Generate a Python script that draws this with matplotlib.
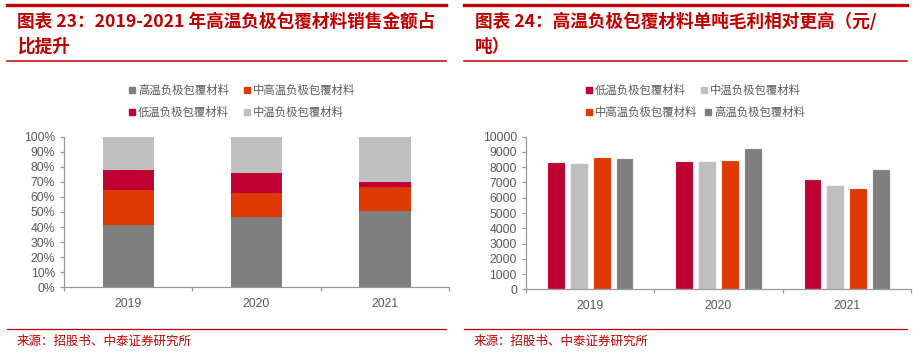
import matplotlib
matplotlib.use("Agg")
import matplotlib.pyplot as plt
from matplotlib.lines import Line2D
import numpy as np

plt.rcParams['font.family'] = ['Liberation Sans', 'Noto Sans CJK SC', 'DejaVu Sans']

years = ['2019', '2020', '2021']

# Chart 23: share of sales (%)
share_high = [41.5, 46.7, 50.7]
share_midhigh = [23.3, 15.9, 15.9]
share_low = [13.0, 13.3, 3.1]
share_mid = [22.2, 24.1, 30.3]

# Chart 24: gross profit per ton (yuan/ton)
gp_low = [8340, 8410, 7210]
gp_mid = [8300, 8390, 6830]
gp_midhigh = [8670, 8470, 6620]
gp_high = [8620, 9260, 7880]

lab_high = '高温负极包覆材料'
lab_midhigh = '中高温负极包覆材料'
lab_low = '低温负极包覆材料'
lab_mid = '中温负极包覆材料'

C_HIGH = '#7F7F7F'
C_MIDHIGH = '#DE3A00'
C_LOW = '#C00033'
C_MID = '#BFBFBF'
RED = '#C00000'
TXT = '#595959'
AX = '#999999'

W, H = 922, 352
fig = plt.figure(figsize=(W / 100, H / 100), dpi=100)

def fx(px):
    return px / W

def fy(py):
    return 1 - py / H

cjk = ['Noto Sans CJK SC', 'DejaVu Sans']

# Decorative lines and titles
for x0, x1 in [(7, 446), (464, 907)]:
    fig.add_artist(Line2D([fx(x0), fx(x1)], [fy(5), fy(5)], color=RED, lw=2.4))
    fig.add_artist(Line2D([fx(x0), fx(x1)], [fy(61), fy(61)], color=RED, lw=1.1))
    fig.add_artist(Line2D([fx(x0), fx(x1)], [fy(329), fy(329)], color=RED, lw=0.9))

tkw = dict(color=RED, fontsize=12.7, fontweight='bold', family=cjk, va='center', ha='left')
fig.text(fx(17), fy(22), '图表 23：2019-2021 年高温负极包覆材料销售金额占', **tkw)
fig.text(fx(17), fy(47), '比提升', **tkw)
fig.text(fx(475), fy(22), '图表 24：高温负极包覆材料单吨毛利相对更高（元/', **tkw)
fig.text(fx(475), fy(47), '吨）', **tkw)

skw = dict(color=RED, fontsize=9, family=cjk, va='center', ha='left')
fig.text(fx(17), fy(341), '来源：招股书、中泰证券研究所', **skw)
fig.text(fx(474), fy(341), '来源：招股书、中泰证券研究所', **skw)

def style_axes(ax):
    for s in ['top', 'right']:
        ax.spines[s].set_visible(False)
    for s in ['left', 'bottom']:
        ax.spines[s].set_color(AX)
        ax.spines[s].set_linewidth(0.9)
    ax.tick_params(axis='both', colors=AX, labelcolor=TXT, labelsize=8.7, length=3, width=0.9, direction='out')
    ax.set_xlim(-0.5, 2.5)
    ax.set_xticks([-0.5, 0.5, 1.5, 2.5])
    ax.set_xticklabels([])
    ax.set_xticks(np.arange(3), minor=True)
    ax.set_xticklabels(years, minor=True)
    ax.tick_params(axis='x', which='minor', length=0, pad=8, labelsize=8.7, labelcolor=TXT)

# Left: stacked percentage bars
ax1 = fig.add_axes([fx(64), fy(287.3), fx(385), (287.3 - 136.7) / H])
x = np.arange(len(years))
bw = 0.4
hi = np.array(share_high) / 100
mh = np.array(share_midhigh) / 100
lo = np.array(share_low) / 100
md = np.array(share_mid) / 100
ax1.bar(x, hi, bw, color=C_HIGH, label=lab_high)
ax1.bar(x, mh, bw, bottom=hi, color=C_MIDHIGH, label=lab_midhigh)
ax1.bar(x, lo, bw, bottom=hi + mh, color=C_LOW, label=lab_low)
ax1.bar(x, md, bw, bottom=hi + mh + lo, color=C_MID, label=lab_mid)
ax1.set_ylim(0, 1)
ax1.set_yticks(np.arange(0, 1.01, 0.1))
ax1.set_yticklabels([f'{int(round(v * 100))}%' for v in np.arange(0, 1.01, 0.1)])
style_axes(ax1)

# Right: grouped bars
ax2 = fig.add_axes([fx(526), fy(289.3), fx(385), (289.3 - 136.7) / H])
gw = 0.138
step = 0.179
series = [(gp_low, C_LOW, lab_low), (gp_mid, C_MID, lab_mid),
          (gp_midhigh, C_MIDHIGH, lab_midhigh), (gp_high, C_HIGH, lab_high)]
for i, (vals, c, lab) in enumerate(series):
    ax2.bar(x + (i - 1.5) * step, vals, gw, color=c, edgecolor='#F2F2F2', linewidth=0.8, label=lab)
ax2.set_ylim(0, 10000)
ax2.set_yticks(np.arange(0, 10001, 1000))
style_axes(ax2)

# Legends
def legend_at(handles_labels, positions):
    for (c, lab), (px, py) in zip(handles_labels, positions):
        fig.add_artist(Line2D([fx(px)], [fy(py)], marker='s', markersize=4.5,
                              color=c, linestyle='none'))
        fig.text(fx(px + 6), fy(py), lab, color=TXT, fontsize=8.2, family=cjk,
                 va='center', ha='left')

legend_at([(C_HIGH, lab_high), (C_MIDHIGH, lab_midhigh), (C_LOW, lab_low), (C_MID, lab_mid)],
          [(132, 90), (247, 90), (132, 112), (247, 112)])
legend_at([(C_LOW, lab_low), (C_MID, lab_mid), (C_MIDHIGH, lab_midhigh), (C_HIGH, lab_high)],
          [(589, 90), (704, 90), (589, 112), (708, 112)])

fig.savefig('out.png', dpi=100, facecolor='white')
